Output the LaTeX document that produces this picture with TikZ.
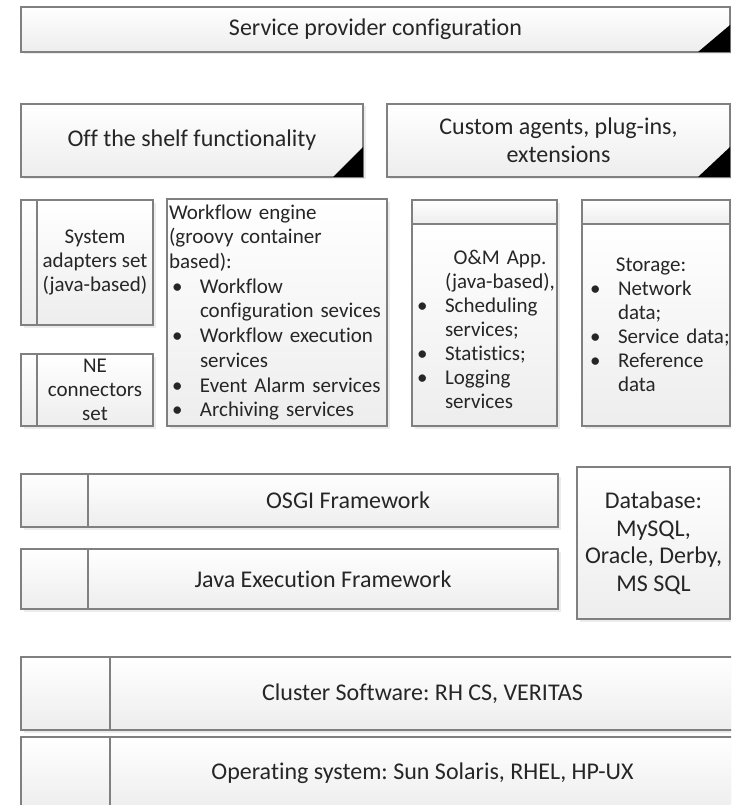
\documentclass[tikz,border=0pt]{standalone}
\usepackage{fontspec}
\setmainfont{Carlito}[Ligatures=NoCommon]
\usetikzlibrary{positioning,shadows}
\frenchspacing

\newcommand{\bul}[1]{\mbox{\makebox[31pt][l]{\hspace{3pt}\textbullet}#1}}
\newcommand{\cont}[1]{\mbox{\hspace*{31pt}#1}}

\begin{document}
\begin{tikzpicture}[
        x=1pt, y=-1pt,
        every node/.style={
            rectangle,
            draw=black!50,
            line width=1.3pt,
            outer sep=0pt,
            inner sep=2pt,
            top color=white,
            bottom color=black!7,
            drop shadow={shadow xshift=2.5pt, shadow yshift=-2.5pt, fill=black!15},
            text=black!85
        },
        big/.style={font=\fontsize{24}{27.5}\selectfont, align=center},
        small/.style={font=\fontsize{21}{24}\selectfont, align=center},
        cornermark/.style={fill=black}
    ]
        \useasboundingbox (0,0) rectangle (731,805);
        \clip (0,0) rectangle (731,805);

        % Configuration layer
        \node (spc) [big, minimum width=709pt, minimum height=45pt] at (375.5,29.5) {Service provider configuration};
        \node (ots) [big, minimum width=342pt, minimum height=73pt] at (192,140.5) {Off the shelf functionality};
        \node (cap) [big, minimum width=343pt, minimum height=73pt] at (558.5,140.5) {Custom agents, plug-ins,\\extensions};
        \fill[cornermark] (spc.south east) -- ++(-32,0) -- ++(32,-27) -- cycle;
        \fill[cornermark] (ots.south east) -- ++(-30,0) -- ++(30,-30) -- cycle;
        \fill[cornermark] (cap.south east) -- ++(-32,0) -- ++(32,-30) -- cycle;

        % Adapters and connectors
        \node (sastub) [minimum width=16pt, minimum height=125pt] at (29,262.5) {};
        \node (sa) [small, minimum width=116pt, minimum height=125pt, right=0pt of sastub] {System\\adapters set\\(java-based)};
        \node (nestub) [minimum width=16pt, minimum height=72pt] at (29,390) {};
        \node (ne) [small, minimum width=116pt, minimum height=72pt, right=0pt of nestub] {NE\\connectors\\set};

        % Workflow engine
        \node (wfe) [small, align=left, font=\fontsize{21}{24.7}\selectfont, text width=216pt, minimum width=220pt, minimum height=227pt] at (277,312.5) {Workflow engine\\(groovy container\\based):\\\bul{Workflow}\\\cont{configuration sevices}\\\bul{Workflow execution}\\\cont{services}\\\bul{Event Alarm services}\\\bul{Archiving services}};

        % O&M application
        \node (omhead) [minimum width=145pt, minimum height=24pt] at (484.5,212) {};
        \node (om) [small, align=left, text width=141pt, minimum width=145pt, minimum height=202pt, below=0pt of omhead] {\mbox{}\\\cont{\makebox[110pt][c]{O\&M App.}}\\\cont{\makebox[110pt][c]{(java-based),}}\\\bul{Scheduling}\\\cont{services;}\\\bul{Statistics;}\\\bul{Logging}\\\cont{services}};

        % Storage
        \node (sthead) [minimum width=148pt, minimum height=24pt] at (656,212) {};
        \node (st) [small, align=left, text width=138pt, minimum width=148pt, minimum height=202pt, below=0pt of sthead] {\makebox[128pt][c]{Storage:}\\\bul{Network}\\\cont{data;}\\\bul{Service data;}\\\bul{Reference}\\\cont{data}};

        % Frameworks
        \node (osgistub) [minimum width=67pt, minimum height=53pt] at (54.5,500.5) {};
        \node (osgi) [big, minimum width=470pt, minimum height=53pt, right=0pt of osgistub] {\hspace*{50pt}OSGI Framework};
        \node (jefstub) [minimum width=67pt, minimum height=60pt] at (54.5,579) {};
        \node (jef) [big, minimum width=470pt, minimum height=60pt, right=0pt of jefstub] {Java Execution Framework};
        \node (db) [big, minimum width=153pt, minimum height=152pt] at (653.5,543) {Database:\\MySQL,\\Oracle, Derby,\\MS SQL};

        % Platform
        \node (csstub) [minimum width=89pt, minimum height=73pt] at (65.5,693.5) {};
        \node (cs) [big, minimum width=625pt, minimum height=73pt, right=0pt of csstub] {Cluster Software: RH CS, VERITAS};
        \node (osstub) [minimum width=89pt, minimum height=73pt] at (65.5,773.5) {};
        \node (os) [big, minimum width=625pt, minimum height=73pt, right=0pt of osstub] {Operating system: Sun Solaris, RHEL, HP-UX};
    \end{tikzpicture}
\end{document}
